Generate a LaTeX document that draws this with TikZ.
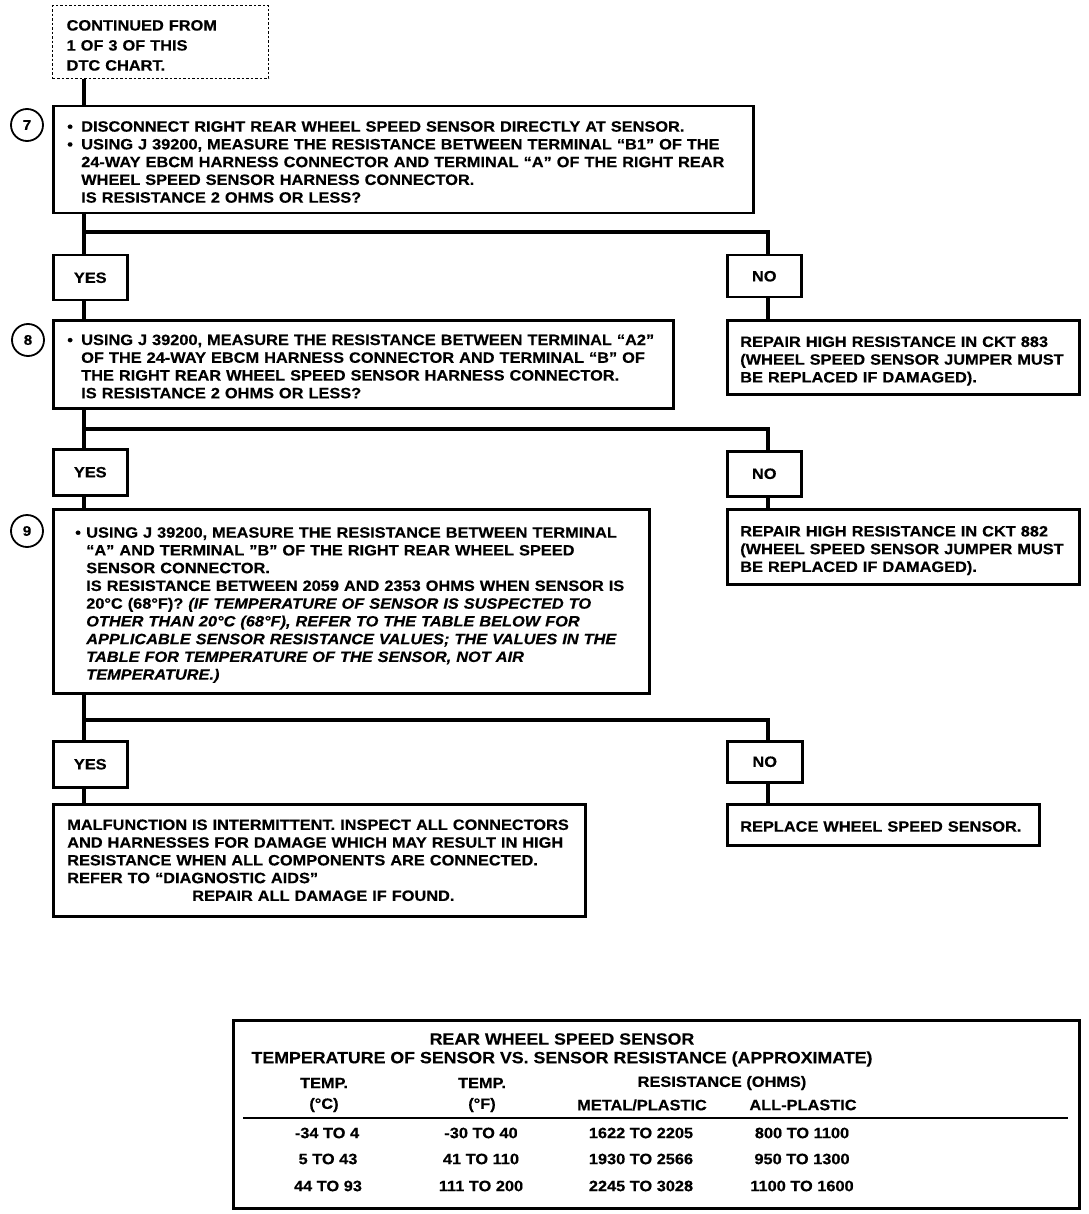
\documentclass[tikz,border=0pt]{standalone}
\usepackage{fontspec}
\setmainfont{Liberation Sans}[FakeStretch=1.09,FakeBold=0.4]
\newcommand\bul[1][14pt]{\makebox[#1][l]{\textbullet}}
\newcommand\ind[1][14pt]{\hspace*{#1}}
\newcommand\LL[1]{\mbox{#1}}
\newcommand\up[1]{\rule{0pt}{#1}}
\tikzset{
  basefont/.style={font=\fontsize{15}{17.75}\selectfont\bfseries},
  box/.style={draw, rectangle, line width=2.5pt, anchor=north west, inner ysep=0pt, inner xsep=14pt, align=left, basefont},
  ynbox/.style={draw, rectangle, line width=2.5pt, anchor=north west, minimum width=74pt, inner sep=0pt, align=center, basefont},
  conn/.style={line width=4.5pt},
  circ/.style={draw, circle, line width=1.8pt, minimum size=32pt, inner sep=0pt, font=\fontsize{14}{14}\selectfont\bfseries},
  tt/.style={inner sep=0pt, basefont},
}
\begin{document}
\begin{tikzpicture}[x=1pt,y=-1pt]
\useasboundingbox (0,0) rectangle (1088,1214);

% top dotted box
\node[box, dotted, line width=1.3pt, text width=188pt, minimum height=73pt, font=\fontsize{15}{20}\selectfont\bfseries] (top) at (52,5)
 {\LL{\up{17pt}CONTINUED FROM}\\ \LL{1 OF 3 OF THIS}\\ \LL{DTC CHART.}};

% step 7
\node[circ] (c7) at (27,125) {7};
\node[box, text width=672pt, minimum height=107pt] (s7) at (52,105)
 {\LL{\up{15pt}\bul DISCONNECT RIGHT REAR WHEEL SPEED SENSOR DIRECTLY AT SENSOR.}\\
  \LL{\bul USING J 39200, MEASURE THE RESISTANCE BETWEEN TERMINAL “B1” OF THE}\\
  \LL{\ind 24-WAY EBCM HARNESS CONNECTOR AND TERMINAL “A” OF THE RIGHT REAR}\\
  \LL{\ind WHEEL SPEED SENSOR HARNESS CONNECTOR.}\\
  \LL{\ind IS RESISTANCE 2 OHMS OR LESS?}};

\node[ynbox, minimum height=45pt] (yes1) at (52,254) {YES};
\node[ynbox, minimum height=42pt] (no1) at (726,254) {NO};
\node[box, inner xsep=13pt, text width=326pt, minimum height=74pt] (rep1) at (726,319)
 {\LL{\up{18pt}REPAIR HIGH RESISTANCE IN CKT 883}\\
  \LL{(WHEEL SPEED SENSOR JUMPER MUST}\\
  \LL{BE REPLACED IF DAMAGED).}};

% step 8
\node[circ] (c8) at (28,340) {8};
\node[box, text width=592pt, minimum height=88pt] (s8) at (52,319)
 {\LL{\up{15pt}\bul USING J 39200, MEASURE THE RESISTANCE BETWEEN TERMINAL “A2”}\\
  \LL{\ind OF THE 24-WAY EBCM HARNESS CONNECTOR AND TERMINAL “B” OF}\\
  \LL{\ind THE RIGHT REAR WHEEL SPEED SENSOR HARNESS CONNECTOR.}\\
  \LL{\ind IS RESISTANCE 2 OHMS OR LESS?}};

\node[ynbox, minimum height=46pt] (yes2) at (52,448) {YES};
\node[ynbox, minimum height=45pt] (no2) at (726,450) {NO};
\node[box, inner xsep=13pt, text width=326pt, minimum height=75pt] (rep2) at (726,508)
 {\LL{\up{18pt}REPAIR HIGH RESISTANCE IN CKT 882}\\
  \LL{(WHEEL SPEED SENSOR JUMPER MUST}\\
  \LL{BE REPLACED IF DAMAGED).}};

% step 9
\node[circ] (c9) at (27,531) {9};
\node[box, inner xsep=22pt, text width=552pt, minimum height=184pt] (s9) at (52,508)
 {\LL{\up{18pt}\bul[11pt]USING J 39200, MEASURE THE RESISTANCE BETWEEN TERMINAL}\\
  \LL{\ind[11pt]“A” AND TERMINAL "B" OF THE RIGHT REAR WHEEL SPEED}\\
  \LL{\ind[11pt]SENSOR CONNECTOR.}\\
  \LL{\ind[11pt]IS RESISTANCE BETWEEN 2059 AND 2353 OHMS WHEN SENSOR IS}\\
  \LL{\ind[11pt]20°C (68°F)? \itshape (IF TEMPERATURE OF SENSOR IS SUSPECTED TO}\\
  \LL{\ind[11pt]\itshape OTHER THAN 20°C (68°F), REFER TO THE TABLE BELOW FOR}\\
  \LL{\ind[11pt]\itshape APPLICABLE SENSOR RESISTANCE VALUES; THE VALUES IN THE}\\
  \LL{\ind[11pt]\itshape TABLE FOR TEMPERATURE OF THE SENSOR, NOT AIR}\\
  \LL{\ind[11pt]\itshape TEMPERATURE.)}};

\node[ynbox, minimum height=46pt] (yes3) at (52,740) {YES};
\node[ynbox, minimum width=75pt, minimum height=41pt] (no3) at (726,740) {NO};
\node[box, text width=504pt, minimum height=112pt] (fin) at (52,803)
 {\LL{MALFUNCTION IS INTERMITTENT. INSPECT ALL CONNECTORS}\\
  \LL{AND HARNESSES FOR DAMAGE WHICH MAY RESULT IN HIGH}\\
  \LL{RESISTANCE WHEN ALL COMPONENTS ARE CONNECTED.}\\
  \LL{REFER TO “DIAGNOSTIC AIDS”}\\
  \LL{\ind[125pt]REPAIR ALL DAMAGE IF FOUND.}};
\node[box, inner xsep=13pt, text width=286pt, minimum height=41pt] (repl) at (726,803)
 {\LL{\up{14pt}REPLACE WHEEL SPEED SENSOR.}};

% connectors
\coordinate (b1) at (84,232);
\coordinate (b2) at (84,429);
\coordinate (b3) at (84,720);
\draw[conn] ([xshift=32pt]top.south west) -- ([xshift=32pt]s7.north west);
\draw[conn] ([xshift=32pt]s7.south west) -- ([xshift=32pt]yes1.north west);
\draw[conn] (b1) -| ([xshift=42pt]no1.north west);
\draw[conn] ([xshift=42pt]no1.south west) -- ([xshift=42pt]no1.south west |- rep1.north);
\draw[conn] ([xshift=32pt]yes1.south west) -- ([xshift=32pt]s8.north west);
\draw[conn] ([xshift=32pt]s8.south west) -- ([xshift=32pt]yes2.north west);
\draw[conn] (b2) -| ([xshift=42pt]no2.north west);
\draw[conn] ([xshift=42pt]no2.south west) -- ([xshift=42pt]no2.south west |- rep2.north);
\draw[conn] ([xshift=32pt]yes2.south west) -- ([xshift=32pt]s9.north west);
\draw[conn] ([xshift=32pt]s9.south west) -- ([xshift=32pt]yes3.north west);
\draw[conn] (b3) -| ([xshift=42pt]no3.north west);
\draw[conn] ([xshift=42pt]no3.south west) -- ([xshift=42pt]no3.south west |- repl.north);
\draw[conn] ([xshift=32pt]yes3.south west) -- ([xshift=32pt]fin.north west);

% table
\node[draw, rectangle, line width=2.5pt, anchor=north west, minimum width=846pt, minimum height=188pt, inner sep=0pt] (tbl) at (232,1019) {};
\node[tt, font=\fontsize{16.3}{16}\selectfont\bfseries] (th1) at (562,1039) {REAR WHEEL SPEED SENSOR};
\node[tt, font=\fontsize{16.3}{16}\selectfont\bfseries] (th2) at (562,1059) {TEMPERATURE OF SENSOR VS. SENSOR RESISTANCE (APPROXIMATE)};
\node[tt] (h1a) at (324,1083) {TEMP.};
\node[tt] (h1b) at (324,1105) {(°C)};
\node[tt] (h2a) at (482,1083) {TEMP.};
\node[tt] (h2b) at (482,1105) {(°F)};
\node[tt] (h3a) at (722,1083) {RESISTANCE (OHMS)};
\node[tt] (h3b) at (642,1105) {METAL/PLASTIC};
\node[tt] (h4b) at (803,1105) {ALL-PLASTIC};
\draw[line width=2pt] (243,1118) -- (1068,1118);
\node[tt] (r1a) at (327,1133) {-34 TO 4};
\node[tt] (r1b) at (481,1133) {-30 TO 40};
\node[tt] (r1c) at (641,1133) {1622 TO 2205};
\node[tt] (r1d) at (802,1133) {800 TO 1100};
\node[tt] (r2a) at (328,1159) {5 TO 43};
\node[tt] (r2b) at (481,1159) {41 TO 110};
\node[tt] (r2c) at (641,1159) {1930 TO 2566};
\node[tt] (r2d) at (802,1159) {950 TO 1300};
\node[tt] (r3a) at (328,1186) {44 TO 93};
\node[tt] (r3b) at (481,1186) {111 TO 200};
\node[tt] (r3c) at (641,1186) {2245 TO 3028};
\node[tt] (r3d) at (802,1186) {1100 TO 1600};
\end{tikzpicture}
\end{document}
